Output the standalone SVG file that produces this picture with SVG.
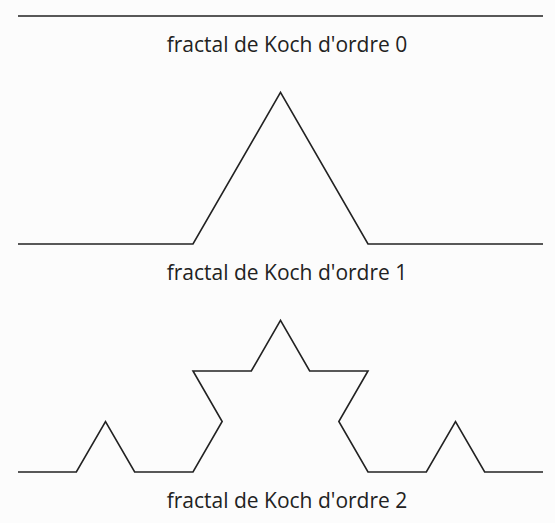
<svg xmlns="http://www.w3.org/2000/svg" width="555" height="523" viewBox="0 0 555 523">
<style>
.curve{fill:none;stroke:#222;stroke-width:1.6;stroke-linejoin:miter}
.lbl{font-family:"Open Sans","Noto Sans",sans-serif;font-size:21px;fill:#222;text-anchor:middle}
</style>
<rect width="555" height="523" fill="#fcfcfc"/>
<g id="koch0">
<polyline class="curve" points="18,16 543,16"/>
<text class="lbl" x="287" y="51.5">fractal de Koch d'ordre 0</text>
</g>
<g id="koch1">
<polyline class="curve" points="18,244 193,244 280.5,92.4 368,244 543,244"/>
<text class="lbl" x="287" y="279.5">fractal de Koch d'ordre 1</text>
</g>
<g id="koch2">
<polyline class="curve" points="18,472 76.33,472 105.5,421.48 134.67,472 193,472 222.17,421.48 193,370.96 251.33,370.96 280.5,320.45 309.67,370.96 368,370.96 338.83,421.48 368,472 426.33,472 455.5,421.48 484.67,472 543,472"/>
<text class="lbl" x="287" y="507.5">fractal de Koch d'ordre 2</text>
</g>
</svg>
